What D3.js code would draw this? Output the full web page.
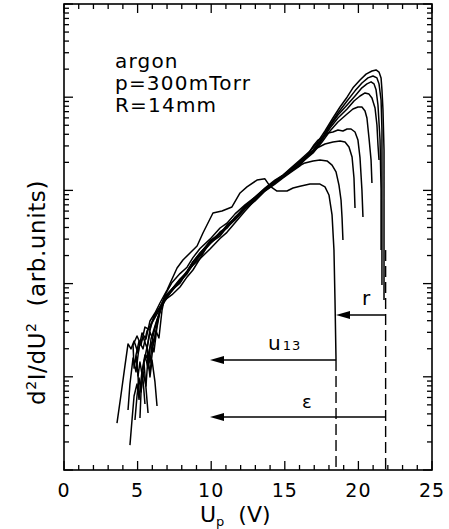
<!DOCTYPE html>
<html><head><meta charset="utf-8">
<script src="https://cdn.jsdelivr.net/npm/d3@7"></script>
<style>
html,body{margin:0;padding:0;background:#fff;}
svg{display:block;}
text{font-family:"DejaVu Sans",sans-serif;fill:#000;}
</style></head><body>
<svg id="chart" width="449" height="529"></svg>
<script>
// ---- data: [U_p (V), d2I/dU2 (arb. units)] ----
const curve1 = [[4.48,1.85],[4.62,3.44],[4.76,6.22],[4.96,8.37],[5.10,5.92],[5.30,11.5],[5.50,17.1],[5.71,12.4],[5.91,25.4],[6.18,35.1],[6.52,50.8],
  [6.86,70.1],[7.34,87.5],[7.88,107],[8.36,137],[8.76,171],[9.24,213],[9.92,273],[10.60,358],[11.07,405],[11.62,506],[12.30,680],[12.98,850],[13.65,1040],[14.33,1260],[14.88,1460],[15.35,1700],[16.03,2120],[16.71,2650],[17.19,3230],[17.73,4340],[18.27,5980],[18.75,7850],[19.23,10000],[19.63,12600],[20.11,15300],[20.52,17700],[20.92,19100],[21.20,19600],[21.40,18600],[21.54,16100],[21.60,12000],[21.67,7290],[21.74,2710],[21.74,481],[21.74,66.7]];
const curve2 = [[4.82,3.44],[4.96,6.22],[5.10,9.71],[5.23,6.87],[5.43,14.4],[5.64,20.9],[5.84,14.1],[6.05,27.4],[6.32,40.7],[6.59,53.4],
  [6.86,68.4],[7.34,85.4],[7.88,104],[8.36,133],[8.76,158],[9.24,203],[9.92,266],[10.60,341],[11.07,395],[11.62,493],[12.30,647],[12.98,809],[13.65,1010],[14.33,1230],[14.88,1430],[15.35,1620],[16.03,2070],[16.92,2710],[17.53,3650],[18.07,5030],[18.61,6770],[19.23,9100],[19.77,11700],[20.24,14200],[20.65,16100],[20.99,16900],[21.26,16100],[21.40,13900],[21.54,9330],[21.60,4450],[21.60,789],[21.60,96.6]];
const curve3 = [[5.16,3.61],[5.23,6.70],[5.37,11.3],[5.57,7.96],[5.71,16.7],[5.91,23.6],[6.11,18.5],[6.32,34.2],[6.59,57.5],
  [6.86,75.5],[7.34,103],[7.88,128],[8.36,150],[8.76,190],[9.24,238],[9.92,300],[10.60,395],[11.07,445],[11.62,560],[12.30,700],[12.98,850],[13.65,1060],[14.33,1290],[14.88,1460],[15.35,1660],[16.03,2020],[16.92,2650],[17.53,3560],[18.07,4910],[18.61,6440],[19.23,8250],[19.77,10300],[20.24,12600],[20.58,13900],[20.86,14600],[21.06,13900],[21.20,12000],[21.33,8250],[21.47,3470],[21.54,1010],[21.54,229]];
const curve4 = [[4.35,4.40],[4.48,8.37],[4.69,15.9],[4.89,11.3],[5.10,20.9],[5.37,26.7],[5.64,20.4],[5.91,36.9],[6.25,48.4],[6.59,58.9],
  [6.86,66.7],[7.34,76],[7.88,92],[8.36,118],[8.76,140],[9.24,185],[9.92,235],[10.60,305],[11.07,355],[11.62,450],[12.30,600],[12.98,789],[13.65,985],[14.33,1200],[14.88,1390],[15.35,1580],[16.03,1970],[16.92,2580],[17.53,3470],[18.07,4670],[18.61,5980],[19.23,7470],[19.70,9100],[20.11,10300],[20.45,11100],[20.72,10800],[20.92,9800],[21.13,7660],[21.26,5030],[21.33,3070],[21.40,2120]];
const curve5 = [[5.71,4.09],[5.57,7.58],[5.43,14.4],[5.64,17.1],[5.84,11.0],[6.05,21.4],[6.25,31.0],[6.45,26.1],[6.66,52.1],
  [6.86,73.6],[7.34,87.5],[7.88,112],[8.36,133],[8.76,171],[9.24,208],[9.92,287],[10.60,341],[11.07,426],[11.62,506],[12.30,664],[12.98,809],[13.65,1040],[14.33,1230],[14.88,1430],[15.35,1580],[16.03,1920],[16.92,2520],[17.53,3310],[18.07,4340],[18.61,5420],[19.23,6600],[19.63,7470],[19.97,7850],[20.24,7850],[20.45,7110],[20.58,5980],[20.72,3650],[20.86,2120],[20.92,1200]];
const curve6 = [[6.32,4.86],[6.18,8.80],[5.98,15.1],[5.84,9.95],[5.64,19.9],[5.84,30.3],[6.11,23.6],[6.39,41.7],[6.66,61.9],
  [6.86,70.1],[7.34,83.3],[7.88,107],[8.36,127],[8.76,162],[9.24,198],[9.92,273],[10.60,324],[11.07,405],[11.62,481],[12.30,632],[12.98,770],[13.65,985],[14.33,1170],[14.88,1360],[15.35,1540],[16.03,1830],[16.58,2460],[16.98,3070],[17.26,3470],[17.60,3740],[17.93,4130],[18.27,4230],[18.61,4450],[18.95,4340],[19.23,4560],[19.50,4560],[19.77,4230],[19.97,3470],[20.11,2230],[20.24,1010],[20.31,518]];
const curve7 = [[5.50,5.11],[5.37,9.24],[5.16,14.4],[5.03,10.2],[4.89,17.1],[5.10,24.2],[5.37,19.9],[5.64,31.0],[5.98,37.8],[6.32,47.2],[6.66,57.5],
  [6.86,65.1],[7.34,85.4],[7.88,101],[8.36,133],[8.76,158],[9.24,185],[9.92,285],[10.60,349],[11.07,395],[11.62,518],[12.30,647],[12.98,829],[13.65,1010],[14.33,1260],[14.88,1390],[15.35,1580],[16.03,1870],[16.58,2340],[17.19,2850],[17.73,3150],[18.27,3310],[18.75,3390],[19.09,3310],[19.36,2920],[19.57,2280],[19.70,1360],[19.77,647]];
const curve8 = [[5.10,5.64],[5.03,10.2],[4.89,16.7],[4.76,12.4],[4.69,21.9],[4.96,27.4],[5.23,21.9],[5.50,34.2],[5.84,31.8],[6.11,44.9],[6.45,53.4],[6.73,63.5],
  [6.86,68.4],[7.34,87.5],[7.88,109],[8.36,133],[8.76,171],[9.24,213],[9.92,279],[10.60,341],[11.07,415],[11.62,493],[12.30,664],[12.98,809],[13.65,1010],[14.33,1230],[14.88,1430],[15.35,1620],[15.83,1780],[16.37,1970],[16.92,2070],[17.39,2120],[17.87,2070],[18.21,1870],[18.48,1580],[18.68,1140],[18.82,789],[18.89,506],[18.95,294]];
const curve9 = [[3.60,3.19],[3.87,6.38],[4.14,13.1],[4.35,22.5],[4.55,19.9],[4.76,24.2],[5.03,18.0],[5.30,29.5],[5.57,25.4],[5.84,39.7],[6.18,48.4],[6.52,61.9],[7.00,85.4],[7.68,147],[8.08,179],[8.56,213],[9.04,253],[9.44,349],[10.12,572],[10.73,601],[11.41,664],[11.96,938],[12.43,1090],[13.11,1290],[13.65,1330],[13.99,1110],[14.47,985],[15.15,985],[15.56,1060],[16.03,1110],[16.71,1170],[17.39,1170],[17.73,1090],[18.00,893],[18.21,545],[18.34,229],[18.41,66.7],[18.48,15.1]];
const curves = [curve1, curve2, curve3, curve4, curve5, curve6, curve7, curve8, curve9];

const xTickValues = [0,5,10,15,20,25];
const xTickLabels = ["0","5","10","15","20","25"];
const infoLines = ["argon", "p=300mTorr", "R=14mm"];

// annotation values (U in V, level in arb. units)
const uThreshold = 18.48;     // left dashed line (u13 onset)
const uMax = 21.85;           // right dashed line
const uArrowEnd = 9.92;       // tips of the long arrows
const levelR = 46.0, levelU13 = 15.1, levelEps = 3.70, dashTop = 229;
const labelR = [20.24, 58.9], labelU13 = [13.86, 19.4], labelEps = [16.17, 4.63];

// ---- drawing ----
const svg = d3.select("#chart");
const L = 64, R = 432, T = 4, B = 470;
const x = d3.scaleLinear().domain([0,25]).range([L,R]);
const y = d3.scaleLog().domain([1,1e5]).range([B,T]);

// curves
const line = d3.line().x(d=>x(d[0])).y(d=>y(d[1])).curve(d3.curveLinear);
svg.append("g").selectAll("path").data(curves).join("path")
  .attr("d", line).attr("fill","none").attr("stroke","#000")
  .attr("stroke-width",1.5).attr("stroke-linejoin","round");

// dashed lines
const dash = svg.append("g").attr("stroke","#000").attr("stroke-width",1.4).attr("stroke-dasharray","11,5");
dash.append("line").attr("x1",x(uThreshold)).attr("x2",x(uThreshold)).attr("y1",y(levelU13)).attr("y2",B);
dash.append("line").attr("x1",x(uMax)).attr("x2",x(uMax)).attr("y1",y(dashTop)).attr("y2",B);

// arrows
function arrow(x0, x1, lv){
  const yy = y(lv), xs = x(x0), xt = x(x1);
  svg.append("line").attr("x1",xs).attr("x2",xt+6).attr("y1",yy).attr("y2",yy)
    .attr("stroke","#000").attr("stroke-width",1.5);
  svg.append("path").attr("d",`M${xt},${yy}L${xt+14},${yy-4}L${xt+14},${yy+4}Z`).attr("fill","#000");
}
arrow(uMax, uThreshold, levelR);
arrow(uThreshold, uArrowEnd, levelU13);
arrow(uMax, uArrowEnd, levelEps);

svg.append("text").attr("x",x(labelR[0])).attr("y",y(labelR[1])).attr("font-size",20).text("r");
const tu = svg.append("text").attr("x",x(labelU13[0])).attr("y",y(labelU13[1])).attr("font-size",20);
tu.append("tspan").text("u");
tu.append("tspan").attr("font-size",13).attr("dx",2).attr("letter-spacing",1).text("13");
svg.append("text").attr("x",x(labelEps[0])).attr("y",y(labelEps[1])).attr("font-size",18).text("ε");

// frame
svg.append("rect").attr("x",L).attr("y",T).attr("width",R-L).attr("height",B-T)
  .attr("fill","none").attr("stroke","#000").attr("stroke-width",1.6);

// ticks
const tk = svg.append("g").attr("stroke","#000").attr("stroke-width",1.3);
d3.range(0,26).forEach(v=>{
  const len = v%5===0 ? 9 : 5, px = x(v);
  tk.append("line").attr("x1",px).attr("x2",px).attr("y1",B).attr("y2",B-len);
  tk.append("line").attr("x1",px).attr("x2",px).attr("y1",T).attr("y2",T+len);
});
y.ticks().forEach(v=>{
  const major = Math.abs(Math.log10(v) - Math.round(Math.log10(v))) < 1e-9;
  const len = major ? 9 : 5, py = y(v);
  tk.append("line").attr("x1",L).attr("x2",L+len).attr("y1",py).attr("y2",py);
  tk.append("line").attr("x1",R).attr("x2",R-len).attr("y1",py).attr("y2",py);
});

// tick labels
svg.append("g").selectAll("text").data(xTickValues).join("text")
  .attr("x",d=>x(d)).attr("y",497).attr("text-anchor","middle")
  .attr("font-size",19).attr("letter-spacing",1).text((d,i)=>xTickLabels[i]);

// x title
const xt2 = svg.append("text").attr("x",200).attr("y",522).attr("font-size",22);
xt2.append("tspan").text("U");
xt2.append("tspan").attr("font-size",13).attr("dy",4).text("p");
xt2.append("tspan").attr("dy",-4).text("\u00a0\u00a0(V)");

// y title
const yt = svg.append("text").attr("transform","rotate(-90)").attr("x",-405).attr("y",45).attr("font-size",23).attr("letter-spacing",0.6);
yt.append("tspan").text("d");
yt.append("tspan").attr("font-size",14).attr("dy",-9).text("2");
yt.append("tspan").attr("dy",9).text("I/dU");
yt.append("tspan").attr("font-size",14).attr("dy",-9).text("2");
yt.append("tspan").attr("dy",9).text("\u00a0\u00a0(arb.units)");

// info text
svg.append("g").selectAll("text").data(infoLines).join("text")
  .attr("x",115).attr("y",(d,i)=>68+i*22).attr("font-size",20).attr("letter-spacing",1.2).text(d=>d);
</script>
</body></html>
